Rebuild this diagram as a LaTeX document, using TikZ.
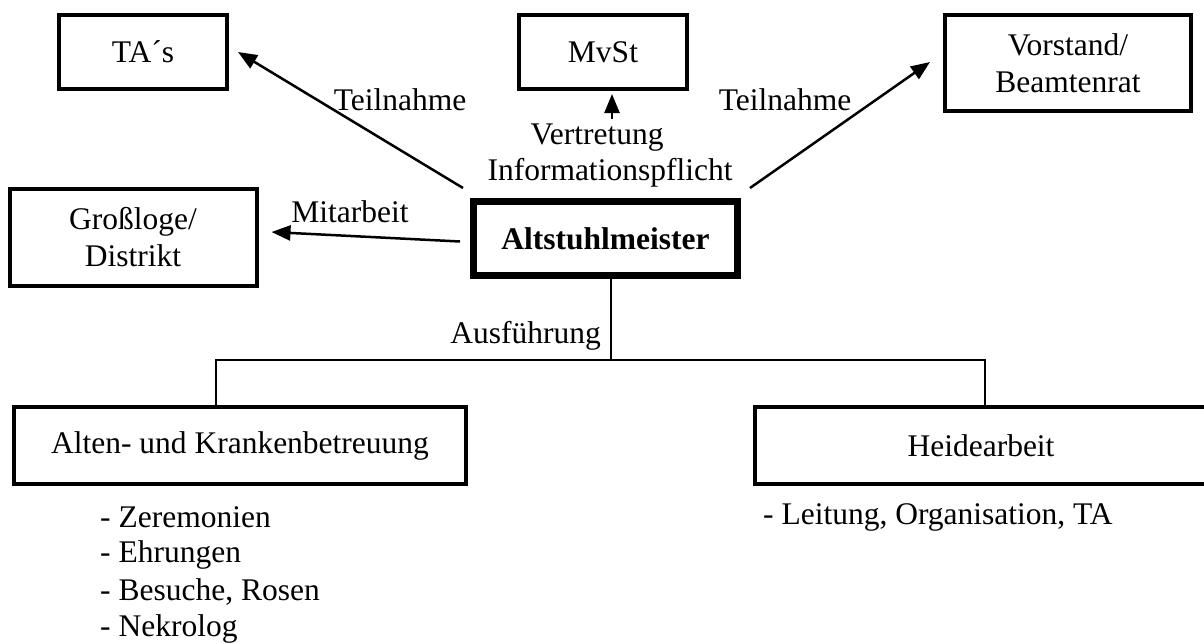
\documentclass[tikz,border=0pt]{standalone}
\usepackage{fontspec}
\setmainfont{Liberation Serif}
\usetikzlibrary{arrows.meta,calc}
\begin{document}
\begin{tikzpicture}[x=1pt,y=-1pt,
  every node/.style={font=\fontsize{31.5}{37}\selectfont},
  box/.style={draw,line width=4pt,rectangle,inner sep=0pt,align=center},
  mainbox/.style={draw,line width=7pt,rectangle,inner sep=0pt,align=center,font=\fontsize{31.5}{37}\selectfont\bfseries},
  lbl/.style={inner sep=0pt},
  item/.style={inner sep=0pt,anchor=west},
  arr/.style={line width=2.5pt,-{Triangle[length=19pt,width=15pt]}},
  tree/.style={line width=2pt}]
\useasboundingbox (0,0) rectangle (1204,643);

% boxes
\node[box,minimum width=168pt,minimum height=74pt] (tas) at (143,52) {TA\char"00B4 s};
\node[box,minimum width=168pt,minimum height=74pt] (mvst) at (603,52) {MvSt};
\node[box,minimum width=246pt,minimum height=96pt] (vor) at (1068,63) {Vorstand/\\Beamtenrat};
\node[box,minimum width=247pt,minimum height=97pt] (gro) at (133,237) {Gro\ss loge/\\Distrikt};
\node[mainbox,minimum width=264pt,minimum height=74pt] (ast) at (605.5,238.5) {Altstuhlmeister};
\node[box,minimum width=452pt,minimum height=77pt] (alt) at (240,445.5) {Alten- und Krankenbetreuung};
\node[box,minimum width=452pt,minimum height=77pt] (hei) at (981,445.5) {Heidearbeit};

% arrows from the Altstuhlmeister
\draw[arr] ($(ast.north west)+(-7,-10)$) -- ($(tas.east)+(9,0)$);
\draw[arr] ($(ast.north east)+(9,-10)$) -- ($(vor.west)+(-13,-1)$);
\draw[arr] ($(ast.west)+(-10,3)$) -- ($(gro.east)+(13,-5)$);
\coordinate (vt) at (612,119);
\draw[arr] (vt) -- ($(vt |- mvst.south)+(0,3)$);

% labels
\node[lbl] (t1) at (400,100) {Teilnahme};
\node[lbl] (t2) at (785,100) {Teilnahme};
\node[lbl] (mit) at (350,212) {Mitarbeit};
\node[lbl] (ver) at (597,138) {Vertretung};
\node[lbl] (inf) at (610,173) {Informationspflicht};

% tree below
\coordinate (fork) at (611,360);
\coordinate (fl) at (216,360);
\coordinate (fr) at (985,360);
\draw[tree] (ast.south -| fork) -- (fork);
\draw[tree] (fl |- alt.north) -- (fl) -- (fr) -- (fr |- hei.north);
\node[lbl,anchor=base east] (aus) at (601,343) {Ausführung};

% task lists
\node[item] (z1) at (100,517) {- Zeremonien};
\node[item] (z2) at (100,555) {- Ehrungen};
\node[item] (z3) at (100,592) {- Besuche, Rosen};
\node[item] (z4) at (100,629) {- Nekrolog};
\node[item] (h1) at (763,517) {- Leitung, Organisation, TA};
\end{tikzpicture}
\end{document}
